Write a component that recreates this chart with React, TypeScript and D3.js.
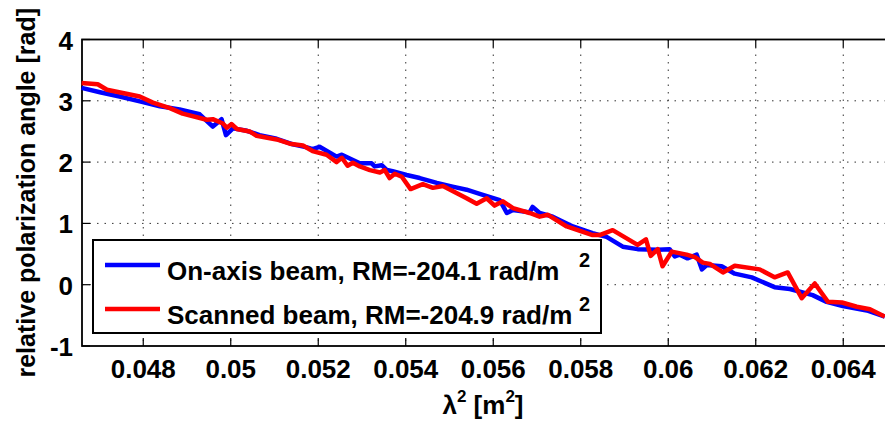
import React, { useEffect, useRef } from 'react';
import * as d3 from 'd3';

// On-axis beam (blue)
const blueLambda2 = [0.04659, 0.04701, 0.04746, 0.04792, 0.04838, 0.04883, 0.04929, 0.04959, 0.04979, 0.04989, 0.05005, 0.05037, 0.05066, 0.05105, 0.05142, 0.05174, 0.05187, 0.05203, 0.05242, 0.05254, 0.05272, 0.05295, 0.05322, 0.05329, 0.05345, 0.05357, 0.05370, 0.05402, 0.05432, 0.05471, 0.05507, 0.05539, 0.05569, 0.05615, 0.05631, 0.05645, 0.05683, 0.05690, 0.05706, 0.05736, 0.05782, 0.05827, 0.05859, 0.05896, 0.05930, 0.05976, 0.06003, 0.06015, 0.06026, 0.06044, 0.06065, 0.06077, 0.06088, 0.06122, 0.06152, 0.06191, 0.06243, 0.06278, 0.06330, 0.06362, 0.06399, 0.06454, 0.06495];
const bluePhase = [3.21, 3.14, 3.07, 2.99, 2.91, 2.86, 2.78, 2.58, 2.70, 2.44, 2.55, 2.51, 2.44, 2.38, 2.29, 2.24, 2.21, 2.25, 2.09, 2.12, 2.06, 1.98, 1.98, 1.93, 1.95, 1.87, 1.85, 1.79, 1.74, 1.66, 1.60, 1.55, 1.48, 1.38, 1.17, 1.22, 1.18, 1.27, 1.17, 1.11, 0.95, 0.84, 0.78, 0.62, 0.58, 0.57, 0.58, 0.46, 0.49, 0.43, 0.49, 0.25, 0.32, 0.30, 0.18, 0.12, -0.04, -0.07, -0.17, -0.28, -0.35, -0.42, -0.52];

// Scanned beam (red)
const redLambda2 = [0.04659, 0.04696, 0.04717, 0.04792, 0.04822, 0.04861, 0.04890, 0.04945, 0.04959, 0.04982, 0.04991, 0.05002, 0.05014, 0.05043, 0.05059, 0.05105, 0.05135, 0.05165, 0.05187, 0.05219, 0.05242, 0.05254, 0.05267, 0.05279, 0.05295, 0.05318, 0.05341, 0.05352, 0.05363, 0.05375, 0.05391, 0.05411, 0.05439, 0.05462, 0.05485, 0.05517, 0.05539, 0.05562, 0.05585, 0.05603, 0.05622, 0.05645, 0.05683, 0.05706, 0.05725, 0.05768, 0.05805, 0.05827, 0.05843, 0.05873, 0.05930, 0.05949, 0.05960, 0.05976, 0.05987, 0.06008, 0.06042, 0.06061, 0.06079, 0.06095, 0.06125, 0.06152, 0.06209, 0.06243, 0.06273, 0.06305, 0.06335, 0.06365, 0.06397, 0.06431, 0.06461, 0.06495];
const redPhase = [3.29, 3.27, 3.18, 3.07, 2.97, 2.88, 2.79, 2.69, 2.70, 2.63, 2.56, 2.62, 2.54, 2.50, 2.43, 2.37, 2.30, 2.27, 2.18, 2.12, 2.00, 2.07, 1.94, 1.99, 1.93, 1.87, 1.83, 1.87, 1.74, 1.81, 1.76, 1.56, 1.64, 1.58, 1.61, 1.49, 1.41, 1.32, 1.41, 1.29, 1.36, 1.25, 1.17, 1.11, 1.14, 0.95, 0.86, 0.81, 0.81, 0.89, 0.65, 0.74, 0.47, 0.58, 0.30, 0.54, 0.49, 0.45, 0.36, 0.34, 0.20, 0.31, 0.25, 0.12, 0.20, -0.22, 0.02, -0.28, -0.29, -0.36, -0.40, -0.52];

const xTicks = [0.048, 0.05, 0.052, 0.054, 0.056, 0.058, 0.06, 0.062, 0.064];
const xTickLabels = ['0.048', '0.05', '0.052', '0.054', '0.056', '0.058', '0.06', '0.062', '0.064'];
const yTicks = [-1, 0, 1, 2, 3, 4];

const legendLabels = ['On-axis beam, RM=-204.1 rad/m', 'Scanned beam, RM=-204.9 rad/m'];
const seriesColors = ['#0000ff', '#ff0000'];

const WIDTH = 885;
const HEIGHT = 421;
const FONT = '"Liberation Sans", Arial, sans-serif';

const App = () => {
    const svgRef = useRef(null);

    useEffect(() => {
        const svg = d3.select(svgRef.current);
        svg.selectAll('*').remove();

        const left = 82, right = 887, top = 39.5, bottom = 346;

        const x = d3.scaleLinear().domain([0.0466, 0.065]).range([left, right]);
        const y = d3.scaleLinear().domain([-1, 4]).range([bottom, top]);

        svg.append('rect').attr('width', WIDTH).attr('height', HEIGHT).attr('fill', '#fff');

        // Grid (dotted)
        const grid = svg.append('g').attr('stroke', '#333').attr('stroke-width', 1).attr('stroke-dasharray', '1.5,6');
        xTicks.forEach(t => {
            grid.append('line').attr('x1', x(t)).attr('x2', x(t)).attr('y1', top).attr('y2', bottom);
        });
        yTicks.filter(t => t > -1 && t < 4).forEach(t => {
            grid.append('line').attr('x1', left).attr('x2', right).attr('y1', y(t)).attr('y2', y(t));
        });

        // Axes box
        svg.append('rect')
            .attr('x', left).attr('y', top)
            .attr('width', right - left).attr('height', bottom - top)
            .attr('fill', 'none').attr('stroke', '#000').attr('stroke-width', 1.8);

        // Inward ticks
        const ticks = svg.append('g').attr('stroke', '#000').attr('stroke-width', 1.2);
        xTicks.forEach(t => {
            ticks.append('line').attr('x1', x(t)).attr('x2', x(t)).attr('y1', bottom).attr('y2', bottom - 8);
            ticks.append('line').attr('x1', x(t)).attr('x2', x(t)).attr('y1', top).attr('y2', top + 8);
        });
        yTicks.forEach(t => {
            ticks.append('line').attr('x1', left).attr('x2', left + 8).attr('y1', y(t)).attr('y2', y(t));
        });

        // Tick labels
        svg.append('g').selectAll('text').data(xTicks).enter().append('text')
            .attr('x', d => x(d)).attr('y', 378)
            .attr('text-anchor', 'middle')
            .style('font-family', FONT).style('font-size', '26px').style('font-weight', 'bold')
            .text((d, i) => xTickLabels[i]);

        svg.append('g').selectAll('text').data(yTicks).enter().append('text')
            .attr('x', 73).attr('y', d => y(d) + 10)
            .attr('text-anchor', 'end')
            .style('font-family', FONT).style('font-size', '26px').style('font-weight', 'bold')
            .text(d => d);

        // Curves
        const line = d3.line().x(d => x(d[0])).y(d => y(d[1]));
        const plot = svg.append('g');
        const series = [
            blueLambda2.map((v, i) => [v, bluePhase[i]]),
            redLambda2.map((v, i) => [v, redPhase[i]]),
        ];
        series.forEach((pts, i) => {
            plot.append('path')
                .datum(pts)
                .attr('d', line)
                .attr('fill', 'none')
                .attr('stroke', seriesColors[i])
                .attr('stroke-width', 4.5)
                .attr('stroke-linejoin', 'round');
        });

        // Legend
        const lg = svg.append('g');
        lg.append('rect')
            .attr('x', 93).attr('y', 240).attr('width', 508).attr('height', 93)
            .attr('fill', '#fff').attr('stroke', '#000').attr('stroke-width', 2);
        legendLabels.forEach((label, i) => {
            const cy = 265 + i * 44;
            lg.append('line')
                .attr('x1', 105).attr('x2', 160).attr('y1', cy).attr('y2', cy)
                .attr('stroke', seriesColors[i]).attr('stroke-width', 4.5);
            lg.append('text')
                .attr('x', 167).attr('y', cy + 15)
                .style('font-family', FONT).style('font-size', '26px').style('font-weight', 'bold')
                .text(label);
            lg.append('text')
                .attr('x', 579).attr('y', cy + 2)
                .style('font-family', FONT).style('font-size', '20px').style('font-weight', 'bold')
                .text('2');
        });

        // Axis labels
        const xl = svg.append('text')
            .attr('x', (left + 884) / 2).attr('y', 414)
            .attr('text-anchor', 'middle')
            .style('font-family', FONT).style('font-size', '26px').style('font-weight', 'bold');
        xl.append('tspan').text('λ');
        xl.append('tspan').attr('dy', -12).style('font-size', '17px').text('2');
        xl.append('tspan').attr('dy', 12).text(' [m');
        xl.append('tspan').attr('dy', -12).style('font-size', '17px').text('2');
        xl.append('tspan').attr('dy', 12).text(']');

        svg.append('text')
            .attr('transform', `translate(35,${(top + bottom) / 2}) rotate(-90)`)
            .attr('text-anchor', 'middle')
            .style('font-family', FONT).style('font-size', '25px').style('font-weight', 'bold')
            .text('relative polarization angle [rad]');
    }, []);

    return (
        <svg
            ref={svgRef}
            width={WIDTH}
            height={HEIGHT}
            style={{ position: 'absolute', left: 0, top: 0, display: 'block' }}
        />
    );
};

export default App;
